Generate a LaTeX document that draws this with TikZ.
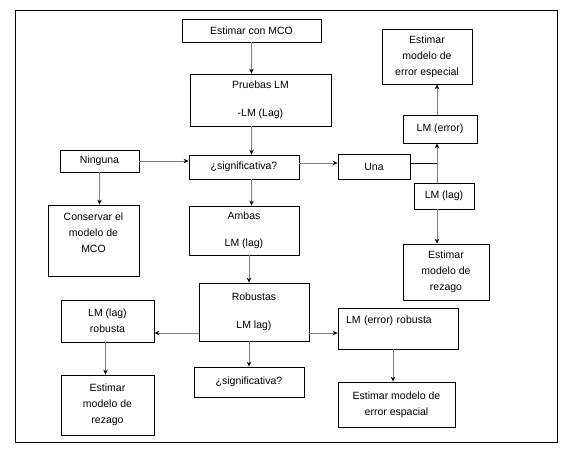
\documentclass[tikz,border=0pt]{standalone}
\usepackage{fontspec}
\setmainfont{Liberation Sans}
\usetikzlibrary{arrows.meta}

\begin{document}
\begin{tikzpicture}[
		x=1pt, y=-1pt,
		>={Stealth[black, length=5pt, width=4.5pt]},	% Pfeilspitzen
		kasten/.style={draw, rectangle, line width=0.8pt, inner sep=3pt, align=center, font=\fontsize{10.5}{16}\selectfont},
		pfeil/.style={->, draw=gray, line width=0.8pt}
	]

	% Rahmen
	\useasboundingbox (0,0) rectangle (570,450);
	\draw[line width=0.8pt] (15,10) rectangle (557,442);

	% Knoten Mitte
	\node[kasten, minimum width=139pt, minimum height=23pt] (mco) at (251.5,30.5) {Estimar con MCO};
	\node[kasten, minimum width=141pt, minimum height=52pt] (pruebas) at (260.5,100) {Pruebas LM\\[12pt]-LM (Lag)};
	\node[kasten, minimum width=110pt, minimum height=24pt] (sigoben) at (244,167) {¿significativa?};
	\node[kasten, minimum width=110pt, minimum height=49pt] (ambas) at (244,230.5) {Ambas\\[11pt]LM (lag)};
	\node[kasten, minimum width=110pt, minimum height=58pt] (robustas) at (254,312) {Robustas\\[12pt]LM lag)};
	\node[kasten, minimum width=110pt, minimum height=30pt] (sigunten) at (249,382) {¿significativa?};

	% Knoten links
	\node[kasten, minimum width=79pt, minimum height=22pt] (ninguna) at (99.5,161) {Ninguna};
	\node[kasten, minimum width=91pt, minimum height=71pt] (conservar) at (93.5,240.5) {Conservar el\\modelo de\\MCO\\};
	\node[kasten, minimum width=93pt, minimum height=42pt] (lagrob) at (107.5,321) {LM (lag)\\robusta};
	\node[kasten, minimum width=93pt, minimum height=60pt] (rezagolinks) at (107.5,405) {Estimar\\modelo de\\rezago};

	% Knoten rechts
	\node[kasten, minimum width=72pt, minimum height=25pt] (una) at (374,166.5) {Una};
	\node[kasten, minimum width=74pt, minimum height=28pt] (lmerror) at (440,129) {LM (error)};
	\node[kasten, minimum width=90pt, minimum height=55pt] (especial) at (427,56.5) {Estimar\\modelo de\\error especial};
	\node[kasten, minimum width=60pt, minimum height=26pt] (lmlag) at (444,196) {LM (lag)};
	\node[kasten, minimum width=86pt, minimum height=56pt] (rezagorechts) at (446,272) {Estimar\\modelo de\\rezago};
	\node[kasten, align=left, inner xsep=8pt, text width=104pt, text height=12pt, text depth=23pt] (errorrob) at (398,328.5) {LM (error) robusta};
	\node[kasten, minimum width=117pt, minimum height=45pt] (espacial) at (396.5,404.5) {Estimar modelo de\\error espacial};

	\coordinate (knick) at (437,163);

	% Pfeile Mitte
	\draw[pfeil] (mco.south) -- (mco.south |- pruebas.north);
	\draw[pfeil] (mco.south |- pruebas.south) -- (mco.south |- sigoben.north);
	\draw[pfeil] (mco.south |- sigoben.south) -- (mco.south |- ambas.north);
	\draw[pfeil] ([xshift=5pt]ambas.south) -- ([xshift=5pt]ambas.south |- robustas.north);
	\draw[pfeil] ([xshift=5pt]ambas.south |- robustas.south) -- ([xshift=5pt]ambas.south |- sigunten.north);

	% Pfeile links
	\draw[pfeil] (ninguna.east) -- (ninguna.east -| sigoben.west);
	\draw[pfeil] (ninguna.south) -- (ninguna.south |- conservar.north);
	\draw[pfeil] ([yshift=-21pt]robustas.west) -- ([yshift=-21pt]robustas.west -| lagrob.east);
	\draw[pfeil] ([xshift=-2pt]lagrob.south) -- ([xshift=-2pt]lagrob.south |- rezagolinks.north);

	% Pfeile rechts
	\draw[pfeil] (sigoben.east |- knick) -- (una.west |- knick);
	\draw[line width=0.8pt] (una.east |- knick) -- (knick);
	\draw[pfeil] (knick |- lmlag.north) -- (knick |- lmerror.south);
	\draw[pfeil] (knick |- lmerror.north) -- (knick |- especial.south);
	\draw[pfeil] (knick |- lmlag.south) -- (knick |- rezagorechts.north);
	\draw[pfeil] ([yshift=-21pt]robustas.east) -- ([yshift=-21pt]robustas.east -| errorrob.west);
	\draw[pfeil] ([xshift=-5pt]errorrob.south) -- ([xshift=-5pt]errorrob.south |- espacial.north);

\end{tikzpicture}
\end{document}
